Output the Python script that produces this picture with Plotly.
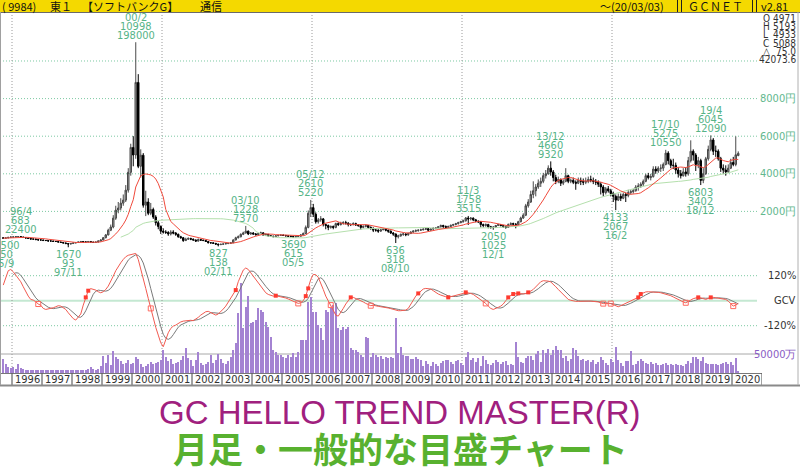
import plotly.graph_objects as go
import pandas as pd

# ---------------- data (monthly, split-adjusted yen) ----------------
first_month = "1995-09"

opens = [
    600, 575, 590, 620,
    640, 640, 660, 660, 640, 610, 585, 560, 530, 530, 500, 480,
    480, 450, 450, 425, 425, 400, 400, 370, 345, 320, 290, 265,
    290, 320, 345, 370, 400, 370, 370, 400, 370, 345, 370, 425,
    480, 600, 750, 1000, 1170, 1640, 2070, 2180, 2440, 2600, 3130, 4080,
    5400, 5000, 8860, 4400, 4990, 2330, 2500, 1900, 2100, 1700, 1400, 1200,
    950, 900, 880, 800, 900, 850, 780, 650, 600, 450, 520, 560,
    520, 480, 420, 500, 470, 450, 400, 330, 330, 300, 260, 230,
    250, 270, 290, 300, 330, 480, 600, 650, 780, 850, 950, 800,
    850, 800, 760, 820, 860, 740, 780, 700, 680, 660, 700, 720,
    740, 720, 700, 680, 660, 640, 660, 680, 750, 820, 1150, 1900,
    2200, 1850, 1450, 1550, 1600, 1300, 1250, 1150, 1200, 1150, 1350, 1300,
    1380, 1400, 1380, 1300, 1300, 1350, 1280, 1250, 1150, 1200, 1250, 1150,
    1100, 1000, 1000, 950, 1020, 1050, 1000, 950, 850, 800, 650, 700,
    780, 800, 760, 820, 900, 950, 980, 1000, 1020, 1050, 1080, 1000,
    1060, 1100, 1120, 1180, 1250, 1200, 1150, 1200, 1260, 1300, 1350, 1400,
    1460, 1500, 1650, 1600, 1640, 1550, 1480, 1450, 1300, 1250, 1300, 1180,
    1150, 1150, 1250, 1300, 1250, 1200, 1150, 1300, 1350, 1320, 1300, 1450,
    1650, 1800, 2300, 2500, 2900, 3100, 3300, 3500, 3600, 3900, 4000, 4300,
    4100, 3800, 3600, 3700, 3500, 3600, 3900, 3600, 3650, 3550, 3500, 3650,
    3600, 3550, 3600, 3700, 3650, 3600, 3550, 3450, 3300, 3000, 3200, 3100,
    2950, 2800, 2600, 2800, 2700, 2900, 2850, 3000, 3050, 3100, 3300, 3350,
    3450, 3600, 3900, 3800, 3850, 4250, 4150, 4300, 4300, 4500, 5100, 4700,
    4450, 4450, 4200, 4000, 3900, 4100, 4000, 4700, 5200, 5000, 4500, 4700,
    3650, 4000, 4800, 5300, 5800, 5200, 5200, 4800, 4300, 4200, 4100, 4300,
    4600, 4500, 4971,
]
highs = [
    620, 610, 640, 660,
    670, 680, 680, 683, 650, 625, 600, 570, 560, 550, 520, 510,
    500, 480, 470, 450, 445, 425, 420, 395, 370, 345, 310, 310,
    340, 365, 390, 425, 415, 395, 420, 420, 385, 390, 445, 500,
    640, 800, 1080, 1300, 1800, 2300, 2500, 2700, 2900, 3400, 4300, 5600,
    6000, 10998, 9300, 5300, 5100, 3100, 2700, 2450, 2200, 1800, 1500, 1250,
    1100, 1000, 950, 1000, 1000, 900, 820, 700, 640, 600, 620, 600,
    560, 500, 560, 540, 500, 470, 410, 370, 350, 320, 280, 280,
    290, 310, 320, 360, 520, 650, 720, 830, 920, 1228, 980, 900,
    900, 850, 860, 920, 880, 820, 800, 730, 710, 740, 760, 780,
    770, 750, 730, 710, 690, 690, 720, 790, 880, 1250, 2050, 2610,
    2400, 1950, 1650, 1750, 1650, 1350, 1300, 1250, 1250, 1400, 1420, 1450,
    1480, 1500, 1420, 1360, 1420, 1400, 1330, 1300, 1260, 1320, 1280, 1200,
    1150, 1080, 1050, 1080, 1120, 1100, 1030, 980, 900, 820, 760, 820,
    860, 840, 870, 950, 1000, 1040, 1050, 1080, 1100, 1120, 1100, 1100,
    1150, 1170, 1220, 1300, 1290, 1250, 1240, 1300, 1340, 1390, 1450, 1500,
    1560, 1700, 1758, 1700, 1680, 1600, 1520, 1480, 1350, 1360, 1340, 1230,
    1200, 1280, 1340, 1330, 1280, 1230, 1360, 1420, 1400, 1380, 1500, 1720,
    1900, 2400, 2650, 3100, 3600, 3450, 3700, 3800, 4050, 4200, 4450, 4660,
    4200, 3950, 3850, 3750, 3700, 4300, 3950, 3750, 3800, 3650, 3800, 3800,
    3750, 3800, 3850, 3900, 3800, 3720, 3650, 3550, 3400, 3300, 3350, 3200,
    3050, 2900, 2950, 2950, 3000, 3000, 3150, 3150, 3200, 3400, 3500, 3550,
    3700, 4000, 4050, 4000, 4400, 4400, 4400, 4500, 4600, 5275, 5200, 4800,
    4800, 4600, 4350, 4200, 4300, 4350, 4900, 5780, 5300, 5100, 4900, 4800,
    4300, 4900, 5500, 6045, 5900, 5500, 5300, 4900, 4500, 4450, 4500, 4800,
    4900, 5990, 5193,
]
lows = [
    550, 560, 575, 600,
    610, 620, 630, 610, 585, 560, 530, 505, 500, 475, 455, 450,
    430, 425, 400, 400, 380, 375, 350, 320, 300, 260, 93, 250,
    270, 300, 330, 350, 350, 345, 350, 345, 320, 320, 350, 410,
    460, 570, 720, 950, 1100, 1550, 1900, 2050, 2300, 2500, 3000, 3900,
    4400, 4800, 4300, 3800, 2200, 1750, 1800, 1800, 1600, 1250, 1050, 800,
    820, 800, 700, 720, 780, 700, 600, 550, 380, 420, 480, 470,
    440, 380, 400, 440, 420, 380, 300, 290, 280, 230, 138, 215,
    230, 250, 260, 280, 320, 460, 560, 620, 740, 830, 740, 760,
    760, 720, 740, 790, 700, 720, 660, 640, 620, 640, 680, 700,
    690, 670, 650, 630, 615, 630, 650, 670, 740, 800, 1100, 1700,
    1700, 1350, 1350, 1450, 1200, 1050, 1000, 1080, 1050, 1100, 1220, 1250,
    1300, 1300, 1200, 1220, 1260, 1230, 1180, 1020, 1100, 1150, 1080, 1020,
    900, 920, 860, 920, 1000, 940, 860, 800, 700, 318, 560, 650,
    700, 680, 700, 800, 860, 900, 920, 960, 990, 1010, 960, 980,
    1000, 1050, 1090, 1150, 1120, 1070, 1110, 1160, 1220, 1260, 1300, 1370,
    1400, 1460, 1280, 1520, 1480, 1420, 1380, 1150, 1150, 1180, 1100, 1080,
    1025, 1120, 1220, 1200, 1120, 1080, 1130, 1260, 1280, 1100, 1260, 1420,
    1600, 1750, 2200, 2450, 2700, 2800, 3200, 3300, 3500, 3750, 3950, 3900,
    3600, 3450, 3500, 3350, 3400, 3550, 3500, 3500, 3450, 3150, 3450, 3400,
    3400, 3450, 3500, 3550, 3450, 3400, 3300, 2900, 2800, 2900, 3000, 2800,
    2500, 2067, 2550, 2550, 2650, 2500, 2750, 2900, 2950, 3050, 3100, 3250,
    3350, 3550, 3700, 3650, 3800, 4000, 4050, 4100, 4150, 4450, 4500, 4300,
    4250, 4000, 3800, 3750, 3850, 3850, 3900, 4600, 4700, 4150, 4300, 3402,
    3500, 3950, 4700, 5200, 5000, 4900, 4700, 4100, 4000, 3900, 4050, 4250,
    4400, 4400, 4933,
]
closes = [
    575, 590, 620, 640,
    640, 660, 660, 640, 610, 585, 560, 530, 530, 500, 480, 480,
    450, 450, 425, 425, 400, 400, 370, 345, 320, 290, 265, 290,
    320, 345, 370, 400, 370, 370, 400, 370, 345, 370, 425, 480,
    600, 750, 1000, 1170, 1640, 2070, 2180, 2440, 2600, 3130, 4080, 5400,
    5000, 8860, 4400, 4990, 2330, 2500, 1900, 2100, 1700, 1400, 1200, 950,
    900, 880, 800, 900, 850, 780, 650, 600, 450, 520, 560, 520,
    480, 420, 500, 470, 450, 400, 330, 330, 300, 260, 230, 250,
    270, 290, 300, 330, 480, 600, 650, 780, 850, 950, 800, 850,
    800, 760, 820, 860, 740, 780, 700, 680, 660, 700, 720, 740,
    720, 700, 680, 660, 640, 660, 680, 750, 820, 1150, 1900, 2200,
    1850, 1450, 1550, 1600, 1300, 1250, 1150, 1200, 1150, 1350, 1300, 1380,
    1400, 1380, 1300, 1300, 1350, 1280, 1250, 1150, 1200, 1250, 1150, 1100,
    1000, 1000, 950, 1020, 1050, 1000, 950, 850, 800, 650, 700, 780,
    800, 760, 820, 900, 950, 980, 1000, 1020, 1050, 1080, 1000, 1060,
    1100, 1120, 1180, 1250, 1200, 1150, 1200, 1260, 1300, 1350, 1400, 1460,
    1500, 1650, 1600, 1640, 1550, 1480, 1450, 1300, 1250, 1300, 1180, 1150,
    1150, 1250, 1300, 1250, 1200, 1150, 1300, 1350, 1320, 1300, 1450, 1650,
    1800, 2300, 2500, 2900, 3100, 3300, 3500, 3600, 3900, 4000, 4300, 4100,
    3800, 3600, 3700, 3500, 3600, 3900, 3600, 3650, 3550, 3500, 3650, 3600,
    3550, 3600, 3700, 3650, 3600, 3550, 3450, 3300, 3000, 3200, 3100, 2950,
    2800, 2600, 2800, 2700, 2900, 2850, 3000, 3050, 3100, 3300, 3350, 3450,
    3600, 3900, 3800, 3850, 4250, 4150, 4300, 4300, 4500, 5100, 4700, 4450,
    4450, 4200, 4000, 3900, 4100, 4000, 4700, 5200, 5000, 4500, 4700, 3650,
    4000, 4800, 5300, 5800, 5200, 5200, 4800, 4300, 4200, 4100, 4300, 4600,
    4500, 5013, 5088,
]
volumes = [  # 万株
    36800, 23700, 17100, 13200,
    15800, 10500, 23700, 13200, 10500, 9200, 9200, 7900, 7900, 7900, 6600, 7900,
    7900, 9200, 6600, 7900, 7900, 7900, 6600, 6600, 6600, 7900, 9200, 6600,
    7900, 6600, 7900, 9200, 6600, 7900, 10500, 15800, 10500, 9200, 11800, 18400,
    44700, 26300, 47400, 21100, 57900, 42100, 36800, 31600, 23700, 26300, 34200, 23700,
    26300, 42100, 36800, 23700, 15800, 18400, 23700, 29000, 23700, 26300, 29000, 34200,
    60500, 42100, 31600, 36800, 23700, 26300, 29000, 34200, 44700, 65800, 39500, 34200,
    18400, 34200, 55300, 26300, 21100, 23700, 29000, 47400, 26300, 34200, 50000, 36800,
    26300, 23700, 31600, 42100, 60500, 79000, 157900, 236900, 118400, 173700, 202700, 131600,
    134200, 139500, 171100, 165800, 160600, 134200, 121100, 94800, 60500, 55300, 47400, 47400,
    42100, 39500, 47400, 42100, 52600, 42100, 55300, 86900, 86900, 86900, 186900, 200000,
    160600, 160600, 126300, 118400, 86900, 165800, 160600, 171100, 179000, 184200, 118400, 113200,
    121100, 115800, 121100, 65800, 60500, 60500, 55300, 47400, 42100, 94800, 92100, 42100,
    52600, 47400, 42100, 44700, 36800, 42100, 39500, 42100, 39500, 144800, 52600, 68400,
    47400, 44700, 44700, 36800, 36800, 42100, 36800, 34200, 18400, 31600, 23700, 18400,
    29000, 23700, 18400, 26300, 31600, 34200, 34200, 29000, 23700, 31600, 34200, 26300,
    21100, 42100, 55300, 34200, 39500, 29000, 39500, 18400, 44700, 34200, 23700, 21100,
    26300, 34200, 29000, 23700, 29000, 31600, 21100, 23700, 21100, 81600, 42100, 29000,
    26300, 39500, 44700, 44700, 34200, 50000, 57900, 29000, 60500, 52600, 63200, 47400,
    60500, 71100, 60500, 60500, 39500, 44700, 31600, 36800, 65800, 60500, 44700, 34200,
    36800, 31600, 34200, 29000, 34200, 23700, 29000, 42100, 34200, 26300, 21100, 36800,
    29000, 68400, 34200, 26300, 18400, 31600, 31600, 57900, 21100, 23700, 31600, 36800,
    31600, 26300, 23700, 29000, 23700, 26300, 21100, 21100, 23700, 26300, 21100, 23700,
    21100, 23700, 21100, 21100, 18400, 23700, 31600, 26300, 42100, 42100, 36800, 31600,
    42100, 26300, 23700, 23700, 23700, 23700, 21100, 23700, 26300, 29000, 23700, 29000,
    21100, 39500, 4207,
]
gcv = [  # %
    75, 115, 144, 150,
    139, 123, 107, 91, 67, 43, 22, 6, 3, -5, -16, -22,
    -37, -42, -40, -37, -34, -29, -24, -26, -32, -42, -58, -74,
    -86, -93, -80, -64, -21, 16, 48, 58, 54, 51, 43, 38,
    43, 54, 70, 91, 118, 144, 166, 182, 198, 211, 218, 221,
    224, 227, 198, 155, 102, 59, 11, -37, -90, -128, -165, -202,
    -221, -186, -154, -133, -122, -117, -109, -102, -98, -96, -93, -94,
    -96, -90, -80, -69, -61, -53, -51, -58, -64, -69, -64, -53,
    -40, -26, -5, 16, 35, 51, 91, 123, 147, 157, 150, 134,
    118, 102, 86, 67, 51, 38, 30, 24, 22, 24, 22, 19,
    16, 13, 8, 3, -3, -10, -13, -10, 0, 22, 59, 102,
    126, 125, 112, 86, 54, 22, 0, -21, -48, -69, -74, -58,
    -37, -16, 3, 16, 16, 11, 6, 0, -6, -13, -19, -24,
    -22, -26, -27, -29, -30, -32, -35, -38, -42, -45, -48, -48,
    -48, -45, -37, -16, 3, 22, 35, 48, 56, 59, 59, 56,
    48, 38, 32, 27, 22, 19, 16, 19, 22, 24, 27, 30,
    35, 40, 38, 35, 30, 22, 14, 6, -3, -13, -26, -37,
    -42, -38, -32, -26, -16, 0, 16, 26, 32, 34, 35, 34,
    32, 35, 40, 46, 54, 67, 80, 91, 96, 96, 94, 90,
    80, 67, 54, 42, 29, 16, 6, 2, -2, -3, -3, -2,
    -2, -2, -2, -2, -3, -5, -6, -10, -14, -14, -13, -14,
    -19, -26, -29, -24, -18, -13, -6, 0, 6, 11, 16, 32,
    38, 42, 43, 43, 43, 42, 40, 38, 35, 32, 29, 24,
    18, 11, 5, -2, -6, -10, -5, 3, 10, 13, 16, 14,
    10, 6, 11, 16, 16, 14, 13, 11, 10, 6, -2, -13,
    -26, -21, -13,
]
buy_signals = ["1998-06", "1998-07", "2003-06", "2004-10", "2005-10", "2005-11",
               "2007-04", "2009-07", "2010-07", "2011-02", "2012-07", "2012-09",
               "2012-11", "2013-03", "2016-11", "2016-12", "2018-11", "2019-04"]
sell_signals = ["1996-11", "2000-08", "2005-07", "2006-08", "2007-12", "2011-10",
                "2015-09", "2015-12", "2018-06", "2020-01"]

high_marks = [("1996-04", "96/4", "683", "22400"), ("2000-02", "00/2", "10998", "198000"),
              ("2003-10", "03/10", "1228", "7370"), ("2005-12", "05/12", "2610", "5220"),
              ("2011-03", "11/3", "1758", "3515"), ("2013-12", "13/12", "4660", "9320"),
              ("2017-10", "17/10", "5275", "10550"), ("2019-04", "19/4", "6045", "12090")]
low_marks = [("1995-09", "18500", "550", "95/9"), ("1997-11", "1670", "93", "97/11"),
             ("2002-11", "827", "138", "02/11"), ("2005-05", "3690", "615", "05/5"),
             ("2008-10", "636", "318", "08/10"), ("2012-01", "2050", "1025", "12/1"),
             ("2016-02", "4133", "2067", "16/2"), ("2018-12", "6803", "3402", "18/12")]

price_grid = [2000, 4000, 6000, 8000, 10000]
price_labels = {2000: "2000円", 4000: "4000円", 6000: "6000円", 8000: "8000円"}
gcv_grid = [120, -120]
gcv_labels = {120: "120%", 0: "GCV", -120: "-120%"}
vol_ref = 50000
vol_ref_label = "50000万"
year_labels = list(range(1996, 2021))
major_years = [1996, 2001, 2006, 2011, 2016]
info_keys = ["O", "H", "L", "C", "△", ""]
info_vals = ["4971", "5193", "4933", "5088", "75.0", "42073.6"]
header_left = [("( 9984)", 1), ("東１", 49), ("【ソフトバンクG】", 81), ("通信", 199)]
header_right = [("～(20/03/03)", 599), ("ＧＣＮＥＴ", 687), ("v2.81", 760)]
title1 = "GC HELLO TREND MASTER(R)"
title2 = "月足・一般的な目盛チャート"

# ---------------- build ----------------
W, H = 800, 475
n = len(closes)
assert len(opens) == len(highs) == len(lows) == n == len(volumes) == len(gcv)
months = pd.period_range(first_month, periods=n, freq="M")
pos = {p.strftime("%Y-%m"): i for i, p in enumerate(months)}
x = list(range(n))
cs = pd.Series(closes, dtype=float)
ma_short = cs.rolling(12, min_periods=1).mean()
ma_long = cs.rolling(48).mean()
gcv_s = pd.Series(gcv, dtype=float)
gcv_slow = gcv_s.rolling(5).mean()


def fx(px):
    return px / W


def fy(py):
    return 1 - py / H


def year_k(y):  # boundary before January of year y, in month-index units
    return pos[f"{y}-01"] - 0.5


NARROW = "Liberation Sans Narrow, DejaVu Sans Condensed, Arial Narrow, sans-serif"
JP = "Noto Sans CJK JP, sans-serif"
LBL = "#56b487"

fig = go.Figure()
fig.add_trace(go.Bar(x=x, y=volumes, width=0.5, marker=dict(color="#a483d2", line=dict(width=0)),
                     xaxis="x", yaxis="y2", hoverinfo="skip"))
fig.add_trace(go.Scatter(x=x, y=ma_long, mode="lines", line=dict(color="#b5e0ad", width=1),
                         xaxis="x", yaxis="y", hoverinfo="skip"))
fig.add_trace(go.Scatter(x=x, y=ma_short, mode="lines", line=dict(color="#f04a3c", width=1),
                         xaxis="x", yaxis="y", hoverinfo="skip"))
fig.add_trace(go.Candlestick(x=x, open=opens, high=highs, low=lows, close=closes,
                             increasing=dict(line=dict(color="#4a4a4a", width=1), fillcolor="#9a9a9a"),
                             decreasing=dict(line=dict(color="#000000", width=1), fillcolor="#000000"),
                             whiskerwidth=0, xaxis="x", yaxis="y", hoverinfo="skip"))
fig.add_trace(go.Scatter(x=x, y=gcv_slow, mode="lines", line=dict(color="#7a7a7a", width=1),
                         xaxis="x", yaxis="y3", hoverinfo="skip"))
fig.add_trace(go.Scatter(x=x, y=gcv_s, mode="lines", line=dict(color="#f25a50", width=1),
                         xaxis="x", yaxis="y3", hoverinfo="skip"))
bi = [pos[m] for m in buy_signals]
si = [pos[m] for m in sell_signals]
fig.add_trace(go.Scatter(x=bi, y=[gcv[i] for i in bi], mode="markers",
                         marker=dict(symbol="square", size=4, color="#ff3b30"),
                         xaxis="x", yaxis="y3", hoverinfo="skip"))
fig.add_trace(go.Scatter(x=si, y=[gcv[i] for i in si], mode="markers",
                         marker=dict(symbol="square-open", size=5, color="#ff6a60", line=dict(width=1)),
                         xaxis="x", yaxis="y3", hoverinfo="skip"))

shapes = []
ann = []
DOT = "1px,2px"
# header
shapes.append(dict(type="rect", xref="paper", yref="paper", x0=0, x1=1, y0=fy(12), y1=1,
                   fillcolor="#f4d900", line=dict(width=0), layer="below"))
shapes.append(dict(type="line", xref="paper", yref="paper", x0=0, x1=1, y0=fy(12.5), y1=fy(12.5),
                   line=dict(color="#6a6a6a", width=1)))
for sx in [677.5, 681.5, 752.5, 756.5]:
    shapes.append(dict(type="line", xref="paper", yref="paper", x0=fx(sx), x1=fx(sx), y0=fy(0), y1=fy(12),
                       line=dict(color="#202020", width=1)))
for txt, px in header_left + header_right:
    ann.append(dict(text=txt, xref="paper", yref="paper", x=fx(px), y=fy(6.5), xanchor="left",
                    yanchor="middle", showarrow=False, borderpad=0,
                    font=dict(family=JP, size=11, color="#111111")))
# price grid
for p in price_grid:
    shapes.append(dict(type="line", xref="paper", yref="y", x0=0, x1=fx(758), y0=p, y1=p,
                       line=dict(color="#7cc9a2", width=1, dash=DOT), layer="below"))
for p, t in price_labels.items():
    ann.append(dict(text=t, xref="paper", yref="y", x=fx(798), y=p, xanchor="right", yanchor="middle",
                    showarrow=False, font=dict(family=NARROW, size=11, color="#62b88e")))
# gcv grid
for g in gcv_grid:
    shapes.append(dict(type="line", xref="paper", yref="y3", x0=0, x1=fx(757), y0=g, y1=g,
                       line=dict(color="#7cc9a2", width=1, dash=DOT), layer="below"))
shapes.append(dict(type="line", xref="paper", yref="y3", x0=0, x1=fx(757), y0=0, y1=0,
                   line=dict(color="#c4e8d2", width=2), layer="below"))
for g, t in gcv_labels.items():
    ann.append(dict(text=t, xref="paper", yref="y3", x=fx(798), y=g, xanchor="right", yanchor="middle",
                    showarrow=False, font=dict(family=NARROW, size=11, color="#333333")))
# volume ref
shapes.append(dict(type="line", xref="paper", yref="y2", x0=0, x1=fx(760), y0=vol_ref, y1=vol_ref,
                   line=dict(color="#a8a8a8", width=1), layer="below"))
ann.append(dict(text=vol_ref_label, xref="paper", yref="y2", x=fx(798), y=vol_ref, xanchor="right",
                yanchor="middle", showarrow=False, font=dict(family=NARROW, size=11, color="#8a5cc4")))
# vertical dotted year lines
for yv in major_years:
    k = year_k(yv)
    shapes.append(dict(type="line", xref="x", yref="paper", x0=k, x1=k, y0=fy(373), y1=fy(13),
                       line=dict(color="#9a9a9a", width=1, dash=DOT), layer="below"))
# year strip
shapes.append(dict(type="line", xref="paper", yref="paper", x0=0, x1=fx(762), y0=fy(373.5), y1=fy(373.5),
                   line=dict(color="#777777", width=1)))
for yv in year_labels + [year_labels[-1] + 1]:
    k = year_k(yv) if yv <= year_labels[-1] else year_k(year_labels[-1]) + 12
    shapes.append(dict(type="line", xref="x", yref="paper", x0=k, x1=k, y0=fy(373.5), y1=fy(385),
                       line=dict(color="#444444", width=1)))
for yv in year_labels:
    ann.append(dict(text=str(yv), xref="x", yref="paper", x=year_k(yv) + 6, y=fy(379.5),
                    xanchor="center", yanchor="middle", showarrow=False, borderpad=0,
                    font=dict(family=NARROW, size=11, color="#333333")))
# frame
shapes.append(dict(type="line", xref="paper", yref="paper", x0=0, x1=1, y0=fy(385.5), y1=fy(385.5),
                   line=dict(color="#8a8a8a", width=2)))
shapes.append(dict(type="line", xref="paper", yref="paper", x0=fx(0.5), x1=fx(0.5), y0=fy(385), y1=fy(12),
                   line=dict(color="#a0a0a0", width=1)))
shapes.append(dict(type="line", xref="paper", yref="paper", x0=fx(798), x1=fx(798), y0=fy(385), y1=fy(12),
                   line=dict(color="#b0b0b0", width=1)))
# info box
for i, (kk, vv) in enumerate(zip(info_keys, info_vals)):
    yy = fy(18.5 + 8.2 * i)
    if kk:
        ann.append(dict(text=kk, xref="paper", yref="paper", x=fx(762), y=yy, xanchor="left",
                        yanchor="middle", showarrow=False, borderpad=0,
                        font=dict(family=NARROW, size=10, color="#333333")))
    ann.append(dict(text=vv, xref="paper", yref="paper", x=fx(797), y=yy, xanchor="right",
                    yanchor="middle", showarrow=False, borderpad=0,
                    font=dict(family=NARROW, size=10, color="#333333")))
# high / low labels
for m, a, b, c in high_marks:
    i = pos[m]
    for j, t in enumerate([a, b, c]):
        ann.append(dict(text=t, xref="x", yref="y", x=i, y=highs[i], yshift=7 + 9 * (2 - j),
                        xanchor="center", yanchor="middle", showarrow=False, borderpad=0,
                        font=dict(family=NARROW, size=11, color=LBL)))
for m, a, b, c in low_marks:
    i = pos[m]
    for j, t in enumerate([a, b, c]):
        ann.append(dict(text=t, xref="x", yref="y", x=i, y=lows[i], yshift=-(7 + 9 * j),
                        xanchor="center", yanchor="middle", showarrow=False, borderpad=0,
                        font=dict(family=NARROW, size=11, color=LBL)))
# titles
ann.append(dict(text=title1, xref="paper", yref="paper", x=0.5, y=fy(412), xanchor="center",
                yanchor="middle", showarrow=False,
                font=dict(family="Liberation Sans, sans-serif", size=33, color="#a0207e")))
ann.append(dict(text="<b>" + title2 + "</b>", xref="paper", yref="paper", x=0.5, y=fy(447),
                xanchor="center", yanchor="middle", showarrow=False,
                font=dict(family=JP, size=35, color="#58b12f")))

fig.update_layout(
    width=W, height=H, margin=dict(l=0, r=0, t=0, b=0),
    paper_bgcolor="white", plot_bgcolor="rgba(0,0,0,0)", showlegend=False,
    xaxis=dict(domain=[0, fx(762)], range=[-1.3, 303.5], visible=False, rangeslider=dict(visible=False),
               fixedrange=True),
    yaxis=dict(domain=[fy(249), fy(12)], range=[0, 237 * 53.19], visible=False, fixedrange=True),
    yaxis2=dict(domain=[fy(373), fy(250)], range=[0, 123 * 2632], visible=False, anchor="x",
                fixedrange=True),
    yaxis3=dict(domain=[fy(373), fy(250)], range=[(300.7 - 373) * 4.8, (300.7 - 250) * 4.8],
                visible=False, anchor="x", fixedrange=True),
    shapes=shapes, annotations=ann, bargap=0, boxgap=0.15,
)
fig.write_html("out.html", include_plotlyjs=True, config={"displayModeBar": False},
               post_script="document.body.style.margin='0';document.body.style.overflow='hidden';")
